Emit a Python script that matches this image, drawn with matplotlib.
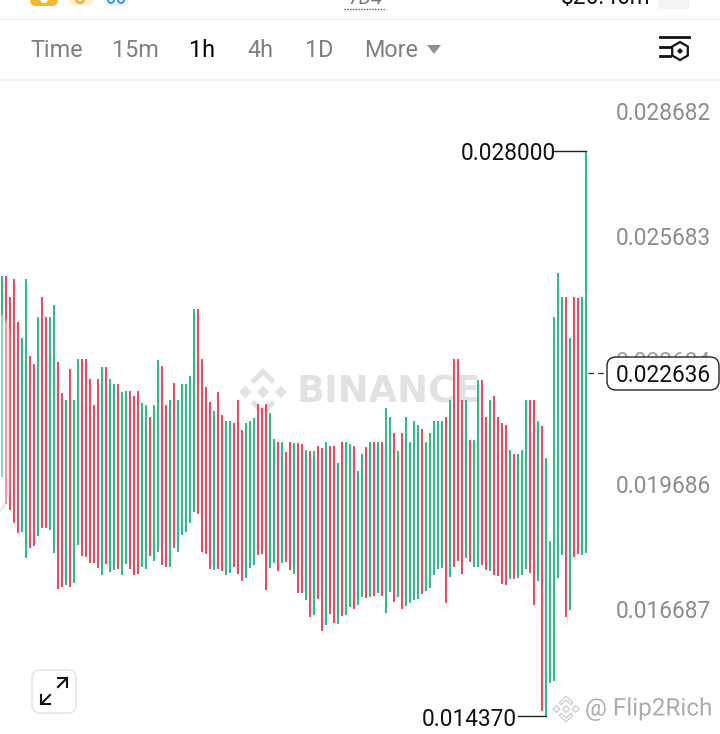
import numpy as np
import matplotlib
matplotlib.use("Agg")
import matplotlib.pyplot as plt
import matplotlib.patheffects as pe
from matplotlib.patches import FancyBboxPatch, Polygon, RegularPolygon, Rectangle, Circle

plt.rcParams['font.family'] = ['Roboto', 'DejaVu Sans']

# prices in millionths
highs = [24993, 24993, 24487, 24921, 23868, 23490, 24921, 23047, 22863, 23996,
         24487, 23996, 23996, 24294, 22919, 22155, 21986, 22734, 21986, 22991,
         22991, 22991, 22493, 21882, 22493, 22782, 22782, 22493, 22380, 22380,
         22179, 22219, 22219, 22091, 22219, 21922, 21866, 21576, 21882, 22951,
         22822, 21882, 21986, 22396, 21986, 22380, 22380, 22581, 24189, 24189,
         22983, 22316, 21954, 21721, 22179, 21632, 21479, 21479, 21447, 21986,
         21278, 21431, 21479, 21560, 21889, 21793, 21889, 21672, 21045, 20989,
         20989, 20732, 20989, 20949, 20957, 20941, 20780, 20764, 20764, 20893,
         20836, 20989, 20893, 20893, 20482, 20989, 20989, 20941, 20884, 20290,
         20683, 20852, 20989, 20989, 20989, 20989, 21793, 21592, 21190, 20772,
         21190, 21592, 20989, 21488, 21391, 21295, 20989, 21190, 21488, 21480,
         21480, 21584, 21986, 22991, 22991, 21986, 21986, 21029, 21029, 22477,
         22477, 21592, 21986, 22099, 21592, 21431, 21391, 20788, 20692, 20692,
         20788, 21986, 21986, 21986, 21480, 21375, 20587, 18593, 23996, 25049,
         24487, 24487, 23482, 24487, 24463, 24487, 28000]
lows = [20145, 19486, 19341, 19019, 18794, 18818, 18191, 18432, 18481, 18714,
        18915, 18915, 18851, 18312, 17427, 17492, 17532, 17492, 17588, 18505,
        18223, 18215, 18071, 18055, 17950, 17773, 18030, 17846, 17886, 17926,
        17765, 18039, 17926, 17765, 17805, 17958, 17926, 18231, 18111, 18320,
        18022, 17966, 17966, 18432, 18320, 18738, 18818, 19035, 19285, 19253,
        18336, 18288, 17910, 17894, 17910, 17861, 17765, 17829, 17966, 17805,
        17636, 17701, 17942, 18014, 18255, 18280, 17419, 17934, 18070, 17878,
        18054, 18087, 17886, 17805, 17339, 17339, 17170, 16752, 16808, 17186,
        16430, 16575, 16840, 16615, 16591, 16776, 16816, 17001, 16961, 17057,
        17250, 17218, 17250, 17258, 17331, 17267, 16849, 17371, 17130, 17251,
        16945, 17025, 17090, 17170, 17186, 17307, 17395, 17468, 17781, 17910,
        17934, 17090, 17733, 17974, 18119, 17797, 18191, 18095, 17974, 17958,
        18014, 17894, 17870, 17765, 17749, 17548, 17532, 17669, 17685, 17701,
        17773, 17910, 17813, 17050, 17637, 14501, 14370, 15176, 15208, 17693,
        18248, 16768, 16929, 18215, 18280, 18256, 18312]
colors = ("GRRRRGGRRGRRGGRRGRGG" "RRRRRGRGGRGGRRRGGRGG" "RRGRGGGGGRRRRGRRGGRR"
          "RGGGRRRGGRGRRGRRGRGR" "RGRRGRGGRGGRGRGRGGRG" "RGGGGRGGGGGRGRRRGRGG"
          "RRGRRRRGRGGGRRGRGGGG" "GRGRRGG")
tick_prices = [0.028682, 0.025683, 0.022684, 0.019686, 0.016687, 0.013688]
last_price = 0.022636
high_label = 0.028000
low_label = 0.014370
tabs = ["Time", "15m", "1h", "4h", "1D", "More"]
tab_x = [30, 112, 189, 247, 305, 364]

highs = np.array(highs) / 1e6
lows = np.array(lows) / 1e6
x = np.arange(len(highs))
GREEN = "#2ebd85"
RED = "#f6465d"
bar_colors = [GREEN if c == "G" else RED for c in colors]

fig = plt.figure(figsize=(7.2, 7.34), dpi=100)
ax_bg = fig.add_axes([0, 0, 1, 1])
ax = fig.add_axes([0, 0, 1, 1], facecolor="none")
ui = fig.add_axes([0, 0, 1, 1], facecolor="none")
for a in (ax_bg, ui):
    a.set_xlim(0, 720)
    a.set_ylim(734, 0)
    a.axis("off")


def logo(a, cx, cy, s, **kw):
    # binance mark: three diamonds + two chevrons
    for dx in (0, -.74, .74):
        r = .26
        a.add_patch(Polygon([(cx + dx * s, cy - r * s), (cx + (dx + r) * s, cy),
                             (cx + dx * s, cy + r * s), (cx + (dx - r) * s, cy)], **kw))
    for sign in (1, -1):
        pts = [(0, -1), (.52, -.48), (.37, -.33), (0, -.7), (-.37, -.33), (-.52, -.48)]
        a.add_patch(Polygon([(cx + px * s, cy + sign * py * s) for px, py in pts], **kw))


# watermark under the bars
logo(ax_bg, 263, 392, 24, facecolor="#e1e3e3", edgecolor="none")
ax_bg.text(297, 392, "BINANCE", family="DejaVu Sans", weight="bold", fontsize=26.6,
           color="#e1e3e3", va="center", ha="left")

# bars
ax.bar(x, highs - lows, bottom=lows, width=0.6, color=bar_colors, linewidth=0)
ax.set_xlim(-0.425, 179.575)
ax.set_ylim(0.013938, 0.031642)
ax.axis("off")

# high / low markers
ax.plot([138, 146], [high_label, high_label], color="#222222", lw=1)
ax.plot([129, 136], [low_label, low_label], color="#222222", lw=1)
ax.annotate(f"{high_label:.6f}", xy=(146, high_label), xytext=(-29.5, -2.5), textcoords="offset pixels",
            ha="right", va="center", fontsize=16.3, color="#111111")
ax.annotate(f"{low_label:.6f}", xy=(136, low_label), xytext=(-29, -3), textcoords="offset pixels",
            ha="right", va="center", fontsize=16.3, color="#111111")

# axis labels sit above their price level
for p in tick_prices:
    ax.annotate(f"{p:.6f}", xy=(177.3, p), xytext=(0, 9), textcoords="offset pixels",
                ha="right", va="center", fontsize=16.3, color="#8a8d8d" if p != 0.022684 else "#a0a0a0")

# last price
ax.plot([146.5, 151.5], [last_price, last_price], color="#333333", lw=1, ls=(0, (4, 3)))
box = FancyBboxPatch((607, 357), 112, 33, boxstyle="round,pad=0,rounding_size=9",
                     facecolor=(1, 1, 1, 0.9), edgecolor="#222222", lw=1)
ui.add_patch(box)
ui.text(663, 375, f"{last_price:.6f}", ha="center", va="center", fontsize=16.3, color="#111111")

# top chrome
ui.add_patch(Rectangle((0, 0), 720, 80, facecolor="white", edgecolor="none"))
ui.plot([0, 720], [18.5, 18.5], color="#eeeeee", lw=1)
ui.add_patch(Rectangle((0, 79), 720, 2, facecolor="#f4f4f4", edgecolor="none"))
for i, t in enumerate(tabs):
    ui.text(tab_x[i], 50.5, t, ha="left", va="center", fontsize=16.8,
            color="#000000" if t == "1h" else "#7d8080")
ui.add_patch(Polygon([(427, 45), (441, 45), (434, 54)], facecolor="#8f9292", edgecolor="none"))

# settings icon
ui.plot([660, 689], [37, 37], color="#111111", lw=2)
ui.plot([660, 670], [47, 47], color="#111111", lw=2)
ui.plot([660, 670], [56, 56], color="#111111", lw=2)
ui.add_patch(RegularPolygon((680, 51), 6, radius=9, facecolor="white", edgecolor="#111111", lw=1.6))
ui.add_patch(RegularPolygon((680, 51), 4, radius=3, facecolor="#111111", edgecolor="none"))

# cut off header pieces
ui.add_patch(FancyBboxPatch((30, -20), 28, 26, boxstyle="round,pad=0,rounding_size=6",
                            facecolor="#f3ba2f", edgecolor="none"))
ui.add_patch(Circle((44, -1), 4, facecolor="white", edgecolor="none"))
ui.add_patch(FancyBboxPatch((68, -20), 25, 26, boxstyle="round,pad=0,rounding_size=6",
                            facecolor="#fdf3d0", edgecolor="none"))
ui.add_patch(Circle((80, -1), 4, facecolor="none", edgecolor="#f5a623", lw=1.5))
ui.add_patch(FancyBboxPatch((104, -20), 24, 26, boxstyle="round,pad=0,rounding_size=6",
                            facecolor="#e6f4fb", edgecolor="none"))
ui.add_patch(Circle((111, 0), 3, facecolor="none", edgecolor="#3b8be8", lw=1.3))
ui.add_patch(Circle((121, 0), 3, facecolor="none", edgecolor="#3b8be8", lw=1.3))
ui.plot([344, 386], [9, 9], color="#555555", lw=1, ls=(0, (1, 1)))
ui.text(365, 4, "7D4", ha="center", va="baseline", fontsize=14, color="#777777")
ui.text(605, 4, "$26.46m", ha="center", va="baseline", fontsize=16.3, color="#111111")
ui.add_patch(FancyBboxPatch((658, -20), 32, 29, boxstyle="round,pad=0,rounding_size=5",
                            facecolor="#f4f4f4", edgecolor="none"))

# panel edge on the left
ui.add_patch(FancyBboxPatch((-100, 308), 109, 209, boxstyle="round,pad=0,rounding_size=30",
                            facecolor=(1, 1, 1, 0.42), edgecolor=(0.8, 0.8, 0.8, 0.4), lw=2))

# expand button
ui.add_patch(FancyBboxPatch((32, 670), 44, 43, boxstyle="round,pad=0,rounding_size=8",
                            facecolor="white", edgecolor="#e6e6e6", lw=1.2))
for seg in ([(41, 704), (50, 695)], [(58, 687), (67, 678)], [(41, 695), (41, 704), (50, 704)],
            [(58, 678), (67, 678), (67, 687)]):
    ui.plot(*zip(*seg), color="#111111", lw=1.5)

# user watermark
logo(ui, 566, 709, 13, facecolor="white", edgecolor="#d0d0d0", lw=1)
ui.text(585, 709, "@ Flip2Rich", ha="left", va="center", fontsize=17.5, color="#acacac",
        path_effects=[pe.withStroke(linewidth=2, foreground="white")])

fig.savefig("out.png", dpi=100)
